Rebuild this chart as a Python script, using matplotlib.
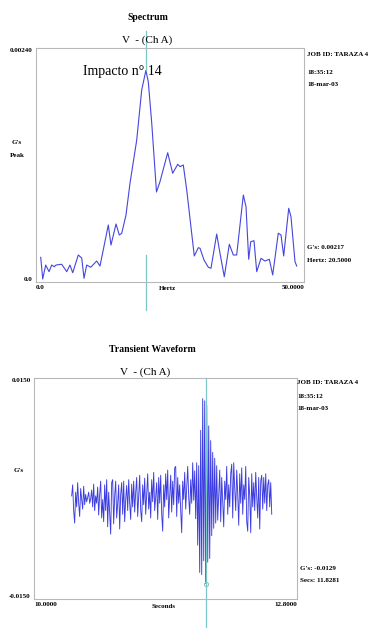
import numpy as np
import matplotlib
matplotlib.use("Agg")
import matplotlib.pyplot as plt

plt.rcParams['font.family'] = ['Liberation Serif', 'DejaVu Serif']

# --- Spectrum: frequency (Hz) vs G's peak
freq_hz = [0.88, 1.25, 1.81, 2.43, 2.93, 3.41, 3.73, 4.79, 5.73, 6.34,
           6.85, 7.89, 8.53, 8.96, 9.46, 10.21, 11.32, 11.94, 13.49, 13.99,
           14.93, 15.54, 15.99, 16.79, 17.54, 18.79, 19.72, 20.50, 20.95, 21.59,
           22.48, 23.13, 24.57, 25.50, 26.44, 26.87, 27.48, 28.12, 29.53, 30.28,
           30.60, 31.34, 32.15, 32.65, 33.71, 34.33, 35.13, 36.07, 36.81, 37.44,
           38.68, 39.18, 39.68, 40.06, 40.67, 41.18, 41.98, 42.72, 43.53, 44.16,
           45.20, 45.71, 46.21, 47.15, 47.57, 48.32, 48.64]
amp_g = [0.000253, 0.000031, 0.000174, 0.000106, 0.000174, 0.000157, 0.000174, 0.000182, 0.000106, 0.000174,
         0.000095, 0.000277, 0.000246, 0.000038, 0.000174, 0.000151, 0.000215, 0.000164, 0.000585, 0.000379,
         0.000595, 0.000482, 0.000499, 0.000687, 0.001015, 0.001456, 0.001969, 0.00217, 0.002054, 0.001631,
         0.000923, 0.001029, 0.001326, 0.001115, 0.001207, 0.001183, 0.0012, 0.000944, 0.000267, 0.000352,
         0.000346, 0.000226, 0.000151, 0.000141, 0.000492, 0.000294, 0.000054, 0.000387, 0.000277, 0.000277,
         0.000892, 0.000772, 0.000233, 0.000413, 0.000424, 0.000106, 0.000243, 0.000215, 0.000233, 0.000072,
         0.0005, 0.000482, 0.000267, 0.000756, 0.00067, 0.000208, 0.000164]
spec_cursor_hz = 20.5
spec_cursor_g = 0.00217

# --- Transient waveform: G's x 1e-4, uniformly sampled
wave_t0 = 10.4010
wave_dt = 0.01065
wave_e4 = [-10, 5, -30, -47, -5, -25, 8, -20, -38, 0, -15, -28, 3, -22, -8, -18, -12, -5, -20, -14,
           -2, -25, 6, -30, -10, -20, 2, -36, -8,
           10, -40, -15, -45, 5, -30, 12, -52, -5, -35, -62, 8, 12, -48, -10, 10, -40, -20, 5, -55,
           -8, 8, -35, 10, -45, -15, 4, -30, 12, -20, -42, 6, -25, 10, -32,
           -5, 15, -38, -10, 18, -30, -45, 5, -22, 14, -35, -8, 20, -28, -5, -40, 12, -18, 22, -30,
           -12, 8, -42, 15, -20, 18, -35, -58, 5, -25, 20, -15, 25, -40, -10, 18, -32, 10, -22, 28,
           30, -38, 15, -20, 5, -30, -60, 10, -15, 22, -28, 0, 30, -12, -35, 12, -20,
           35, -16, 24, -41, 35, -77, 31, -114, 79, -117, 122, -98, 119, -129, 113, -100, 85, -95, 65, -64,
           49, -54, 41, -47, 31, -43,
           -10, 25, -45, 15, -20, -52, 10, -15, 30, -35, 5, -25, 20, 33, -40, 35, 0, -30, 25, -8,
           -50, 20, -20, 28, -35, 5, -15, 30, -45, -58, 15, -10, -60, 20, -25, 8, -30, 22, -12, -40,
           15, -55, 10, 18, -28, 15, -20, 20, -30, 5, 12, -25, 8, -35]
wave_cursor_s = 11.8281
wave_cursor_g = -0.0129

W, H = 377, 628
fig = plt.figure(figsize=(W / 100, H / 100), dpi=100)


def fx(px):
    return px / W


def fy(py):
    return 1 - py / H


line_col = '#4646dc'
cur_col = '#7cc8c8'
frame_col = '#b8b8b8'
small = 5
sw = 'bold'

# ================= Spectrum =================
ax1 = fig.add_axes([fx(36), fy(282), fx(304) - fx(36), fy(48) - fy(282)])
ax1.plot(freq_hz, amp_g, color=line_col, lw=0.8)
ax1.set_xlim(0, 50)
ax1.set_ylim(0, 0.0024)
ax1.plot([spec_cursor_hz, spec_cursor_hz], [spec_cursor_g, 0.00257], color=cur_col, lw=0.9, clip_on=False)
ax1.plot([spec_cursor_hz, spec_cursor_hz], [0.000277, -0.000287], color=cur_col, lw=0.9, clip_on=False)

ax1.set_xticks([0, 50])
ax1.set_xticklabels(['0.0', '50.0000'], fontsize=small, fontweight=sw)
ax1.set_yticks([0, 0.0024])
ax1.set_yticklabels(['0.0', '0.00240'], fontsize=small, fontweight=sw)
ax1.tick_params(length=0, pad=2.5)
xl = ax1.get_xticklabels()
xl[0].set_ha('left')
xl[1].set_ha('right')
yl = ax1.get_yticklabels()
yl[0].set_va('bottom')
yl[1].set_va('top')
for s in ax1.spines.values():
    s.set_color(frame_col)
    s.set_linewidth(0.8)

fig.text(fx(167), fy(289), 'Hertz', ha='center', va='center', fontsize=small, fontweight=sw)
fig.text(fx(148), fy(17), 'Spectrum', ha='center', va='center', fontsize=7, fontweight='bold')
fig.text(fx(147), fy(40), 'V  - (Ch A)', ha='center', va='center', fontsize=8)
fig.text(fx(83), fy(72), 'Impacto n° 14', ha='left', va='center', fontsize=10)
fig.text(fx(17), fy(143), "G's", ha='center', va='center', fontsize=small, fontweight=sw)
fig.text(fx(17), fy(156), 'Peak', ha='center', va='center', fontsize=small, fontweight=sw)
fig.text(fx(307), fy(55), 'JOB ID: TARAZA 4', ha='left', va='center', fontsize=small, fontweight=sw)
fig.text(fx(307), fy(72), '18:35:12', ha='left', va='center', fontsize=small, fontweight=sw)
fig.text(fx(307), fy(84), '18-mar-03', ha='left', va='center', fontsize=small, fontweight=sw)
fig.text(fx(307), fy(247), "G's: 0.00217", ha='left', va='center', fontsize=small, fontweight=sw)
fig.text(fx(307), fy(260), 'Hertz: 20.5000', ha='left', va='center', fontsize=small, fontweight=sw)

# ================= Transient waveform =================
wave_t = wave_t0 + wave_dt * np.arange(len(wave_e4))
wave_g = np.array(wave_e4) * 1e-4

ax2 = fig.add_axes([fx(34), fy(599), fx(297) - fx(34), fy(378) - fy(599)])
ax2.plot(wave_t, wave_g, color='#3c3ce0', lw=0.65)
ax2.set_xlim(10.0, 12.8)
ax2.set_ylim(-0.015, 0.015)
ax2.plot([wave_cursor_s, wave_cursor_s], [0.015, -0.0189], color=cur_col, lw=0.9, clip_on=False)
ax2.plot([wave_cursor_s], [wave_cursor_g], marker='o', ms=3, mfc='none', mec=cur_col, mew=0.7)

ax2.set_xticks([10.0, 12.8])
ax2.set_xticklabels(['10.0000', '12.8000'], fontsize=small, fontweight=sw)
ax2.set_yticks([-0.015, 0.015])
ax2.set_yticklabels(['-0.0150', '0.0150'], fontsize=small, fontweight=sw)
ax2.tick_params(length=0, pad=2.5)
xl = ax2.get_xticklabels()
xl[0].set_ha('left')
xl[1].set_ha('right')
yl = ax2.get_yticklabels()
yl[0].set_va('bottom')
yl[1].set_va('top')
for s in ax2.spines.values():
    s.set_color(frame_col)
    s.set_linewidth(0.8)

fig.text(fx(164), fy(606), 'Seconds', ha='center', va='center', fontsize=small, fontweight=sw)
fig.text(fx(152), fy(350), 'Transient Waveform', ha='center', va='center', fontsize=7, fontweight='bold')
fig.text(fx(145), fy(372), 'V  - (Ch A)', ha='center', va='center', fontsize=8)
fig.text(fx(19), fy(470), "G's", ha='center', va='center', fontsize=small, fontweight=sw)
fig.text(fx(297), fy(383), 'JOB ID: TARAZA 4', ha='left', va='center', fontsize=small, fontweight=sw)
fig.text(fx(297), fy(396), '18:35:12', ha='left', va='center', fontsize=small, fontweight=sw)
fig.text(fx(297), fy(408), '18-mar-03', ha='left', va='center', fontsize=small, fontweight=sw)
fig.text(fx(300), fy(568), "G's: -0.0129", ha='left', va='center', fontsize=small, fontweight=sw)
fig.text(fx(300), fy(580), 'Secs: 11.8281', ha='left', va='center', fontsize=small, fontweight=sw)

fig.savefig('out.png', dpi=100)
